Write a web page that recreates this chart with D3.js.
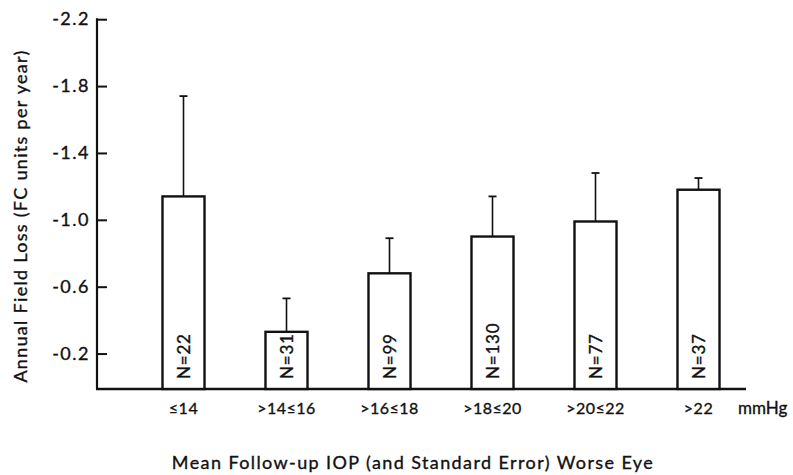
<!DOCTYPE html>
<html>
<head>
<meta charset="utf-8">
<script src="https://cdn.jsdelivr.net/npm/d3@7"></script>
<style>
  html, body { margin: 0; padding: 0; background: #fff; }
  svg { display: block; }
  text { font-family: "Lato", "DejaVu Sans", sans-serif; fill: #111; stroke: #111; stroke-width: 0.35px; }
</style>
</head>
<body>
<svg id="chart" width="793" height="475"></svg>
<script>
// Data (field loss shown as negative values in the original)
const categories = ["≤14", ">14≤16", ">16≤18", ">18≤20", ">20≤22", ">22"];
const meanLoss   = [-1.14, -0.33, -0.68, -0.90, -0.99, -1.18];
const upperSE    = [-1.74, -0.53, -0.89, -1.14, -1.28, -1.25];
const sampleN    = ["N=22", "N=31", "N=99", "N=130", "N=77", "N=37"];
const yTicks     = [-0.2, -0.6, -1.0, -1.4, -1.8, -2.2];

const svg = d3.select("#chart");
const ink = "#111";

const x = d3.scaleBand()
  .domain(categories)
  .range([132, 750])
  .paddingInner(0.592)
  .paddingOuter(0.296);

const y = d3.scaleLinear()
  .domain([0, -2.2])
  .range([387, 19.2]);

const axisX = 97;
const baseY = 389;

// Y axis
const yAxis = d3.axisLeft(y)
  .tickValues(yTicks)
  .tickSize(-10)
  .tickPadding(7)
  .tickFormat(d => "-" + Math.abs(d).toFixed(1));

const gy = svg.append("g")
  .attr("transform", `translate(${axisX},0)`)
  .call(yAxis);
gy.select(".domain").remove();
gy.selectAll(".tick line").attr("stroke", ink).attr("stroke-width", 2);
gy.selectAll(".tick text")
  .attr("font-size", 18)
  .attr("fill", ink)
  .style("letter-spacing", "1.5px")
  .style("font-family", "Lato, 'DejaVu Sans', sans-serif");

svg.append("line")
  .attr("x1", axisX).attr("x2", axisX)
  .attr("y1", y(-2.2) - 1).attr("y2", baseY)
  .attr("stroke", ink).attr("stroke-width", 2.2);

// Baseline
svg.append("line")
  .attr("x1", axisX - 1).attr("x2", 746)
  .attr("y1", baseY).attr("y2", baseY)
  .attr("stroke", ink).attr("stroke-width", 2.4);

// Error bars
const err = svg.append("g");
categories.forEach((c, i) => {
  const cx = x(c) + x.bandwidth() / 2;
  err.append("line")
    .attr("x1", cx).attr("x2", cx)
    .attr("y1", y(meanLoss[i])).attr("y2", y(upperSE[i]))
    .attr("stroke", ink).attr("stroke-width", 1.6);
  err.append("line")
    .attr("x1", cx - 4).attr("x2", cx + 4)
    .attr("y1", y(upperSE[i])).attr("y2", y(upperSE[i]))
    .attr("stroke", ink).attr("stroke-width", 1.8);
});

// Bars
svg.append("g").selectAll("rect")
  .data(categories)
  .join("rect")
  .attr("x", d => x(d))
  .attr("width", x.bandwidth())
  .attr("y", (d, i) => y(meanLoss[i]))
  .attr("height", (d, i) => baseY - y(meanLoss[i]))
  .attr("fill", "#fff")
  .attr("stroke", ink)
  .attr("stroke-width", 2.4);

// N labels inside bars
svg.append("g").selectAll("text")
  .data(categories)
  .join("text")
  .attr("transform", d => `translate(${x(d) + x.bandwidth() / 2 + 6},${baseY - 10}) rotate(-90)`)
  .attr("text-anchor", "start")
  .attr("font-size", 17)
  .style("letter-spacing", "0.8px")
  .text((d, i) => sampleN[i]);

// X tick labels
svg.append("g").selectAll("text")
  .data(categories)
  .join("text")
  .attr("x", d => x(d) + x.bandwidth() / 2)
  .attr("y", 414)
  .attr("text-anchor", "middle")
  .attr("font-size", 16)
  .style("letter-spacing", "0.5px")
  .text(d => d);

svg.append("text")
  .attr("x", 738).attr("y", 414)
  .attr("font-size", 17)
  .text("mmHg");

// Axis titles
svg.append("text")
  .attr("x", 413).attr("y", 469)
  .attr("text-anchor", "middle")
  .attr("font-size", 18)
  .style("letter-spacing", "1.4px")
  .text("Mean Follow-up IOP (and Standard Error) Worse Eye");

svg.append("text")
  .attr("transform", "translate(27,216) rotate(-90)")
  .attr("text-anchor", "middle")
  .attr("font-size", 18)
  .style("letter-spacing", "1.3px")
  .text("Annual Field Loss (FC units per year)");
</script>
</body>
</html>
